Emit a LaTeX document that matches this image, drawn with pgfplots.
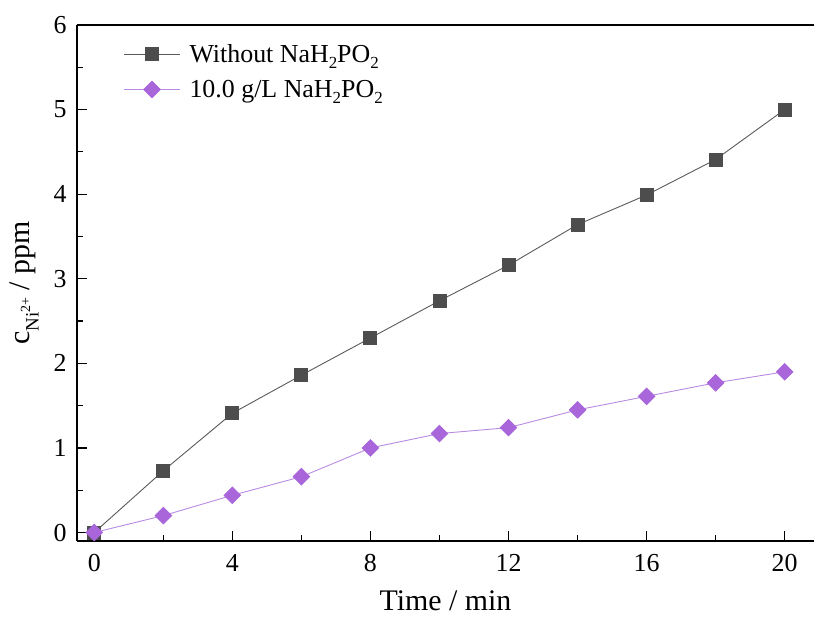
\documentclass[border=0pt]{standalone}
\usepackage{fontspec}
\setmainfont{Liberation Serif}
\usepackage{pgfplots}
\pgfplotsset{compat=1.18}

\definecolor{sqfill}{HTML}{4D4D4D}
\definecolor{sqline}{HTML}{5A5A5A}
\definecolor{dmfill}{HTML}{A866DA}
\definecolor{dmline}{HTML}{B98AE2}

\newcommand{\sub}[1]{\raisebox{-0.22em}{\fontsize{17}{17}\selectfont #1}}

\begin{document}
\begin{tikzpicture}
\begin{axis}[
    scale only axis,
    width=737bp, height=516bp,
    xmin=-0.5, xmax=20.85,
    ymin=-0.1, ymax=6,
    axis x line=box, axis y line=left,
    axis line style={line width=1.4bp, -},
    xtick={0,4,...,20}, ytick={0,1,...,6},
    minor x tick num=1, minor y tick num=1,
    xtick pos=bottom, ytick pos=left,
    tick align=inside,
    major tick length=10bp, minor tick length=6bp,
    every tick/.style={line width=1.2bp, black},
    /pgf/number format/assume math mode=true,
    xticklabel={\pgfmathprintnumber{\tick}},
    yticklabel={\pgfmathprintnumber{\tick}},
    tick label style={font=\fontsize{26}{26}\selectfont},
    xticklabel style={yshift=-10bp},
    yticklabel style={xshift=-7bp},
    xlabel={Time / min},
    ylabel={c\raisebox{-0.3em}{\fontsize{19}{19}\selectfont Ni\raisebox{0.45em}{\fontsize{14}{14}\selectfont 2+}} / ppm},
    label style={font=\fontsize{30}{30}\selectfont},
    xlabel style={yshift=-12bp},
    ylabel style={yshift=8bp},
    legend style={draw=none, fill=none, at={(rel axis cs:0.063,0.97)}, anchor=north west,
        font=\fontsize{26}{28}\selectfont, row sep=8bp, inner sep=0pt,
        nodes={inner sep=4bp},
        /tikz/every odd column/.append style={column sep=5bp}},
    legend cell align=left,
    legend image code/.code={
        \draw[mark repeat=2, mark phase=2, #1] plot coordinates {(0bp,0bp) (28bp,0bp) (56bp,0bp)};
    },
    clip=false,
]
\addplot[color=sqline, line width=0.9bp, mark=square*,
    mark options={fill=sqfill, draw=sqfill, mark size=6.5bp}]
coordinates {(0,0) (2,0.73) (4,1.41) (6,1.86) (8,2.30) (10,2.74) (12,3.16) (14,3.64) (16,3.99) (18,4.41) (20,5.0)};
\addplot[color=dmline, line width=0.9bp, mark=square*,
    mark options={fill=dmfill, draw=dmfill, mark size=5.8bp, rotate=45}]
coordinates {(0,0) (2,0.20) (4,0.44) (6,0.66) (8,1.0) (10,1.17) (12,1.24) (14,1.45) (16,1.61) (18,1.77) (20,1.90)};
\legend{Without NaH\sub{2}PO\sub{2}, 10.0 g/L NaH\sub{2}PO\sub{2}}
\end{axis}
\pgfresetboundingbox
\useasboundingbox ([shift={(-77bp,-87bp)}]current axis.south west) rectangle ([shift={(0bp,25bp)}]current axis.north east);
\end{tikzpicture}
\end{document}
